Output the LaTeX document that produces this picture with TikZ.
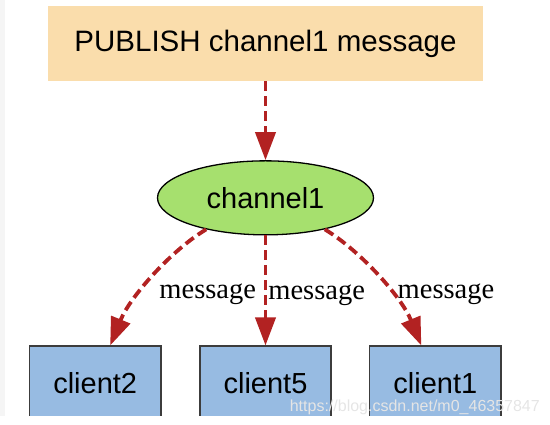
\documentclass[tikz,border=0pt]{standalone}
\usepackage{fontspec}
\setmainfont{Liberation Sans}
\newfontfamily\msgfont{Liberation Serif}
\usetikzlibrary{positioning,shapes.geometric,arrows.meta}
\definecolor{pubfill}{RGB}{250,221,172}
\definecolor{chanfill}{RGB}{166,224,110}
\definecolor{clientfill}{RGB}{151,187,226}
\definecolor{clientline}{RGB}{60,60,60}
\definecolor{msgred}{RGB}{178,34,34}
\tikzset{
  pubbox/.style={fill=pubfill, minimum width=435pt, minimum height=75pt, font=\fontsize{29.5}{32}\selectfont},
  chan/.style={ellipse, draw=black, line width=1.3pt, fill=chanfill, minimum width=216pt, minimum height=74pt, inner sep=2pt, font=\fontsize{29}{32}\selectfont},
  client/.style={draw=clientline, line width=1.8pt, fill=clientfill, minimum width=131.5pt, minimum height=74pt, font=\fontsize{29}{32}\selectfont},
  msg/.style={draw=msgred, line width=3.8pt, dash pattern=on 10pt off 5pt, -{Triangle[length=28pt,width=20pt]}},
  msglbl/.style={font=\msgfont\fontsize{28.5}{30}\selectfont, inner sep=0pt}
}
\begin{document}
\begin{tikzpicture}[x=1pt,y=1pt]
      \useasboundingbox (0,0) rectangle (550,425);
      % Define nodes
      \node[pubbox]                    (pub) at (265.5,381.5) {PUBLISH channel1 message};
      \node[chan, below=79pt of pub]   (ch)  {channel1};
      \node[client, below=110pt of ch] (c5)  {client5};
      \node[client, left=37pt of c5]   (c2)  {client2};
      \node[client, right=36.5pt of c5] (c1) {client1};
      % Connect nodes
      \draw[msg] (pub) -- (ch);
      \draw[msg] (ch.208) .. controls +(-35,-21) and +(20,49) .. ([xshift=15pt]c2.north)
        node[msglbl, pos=0.6, right=15pt, yshift=-5pt] {message};
      \draw[msg] (ch) -- (c5) node[msglbl, pos=0.5, right=1pt, yshift=-5pt] {message};
      \draw[msg] (ch.-28) .. controls +(35,-21) and +(-20,49) .. ([xshift=-14pt]c1.north)
        node[msglbl, pos=0.6, right=7pt, yshift=-5pt] {message};
      % page edges
      \fill[white] (0,0) rectangle (550,9);
      \fill[gray!8] (0,9) rectangle (5,425);
      \node[font=\fontsize{16}{18}\selectfont, text=gray!20, anchor=east, inner sep=0pt] (mark) at (540,18) {https://blog.csdn.net/m0\_46357847};
\end{tikzpicture}
\end{document}
